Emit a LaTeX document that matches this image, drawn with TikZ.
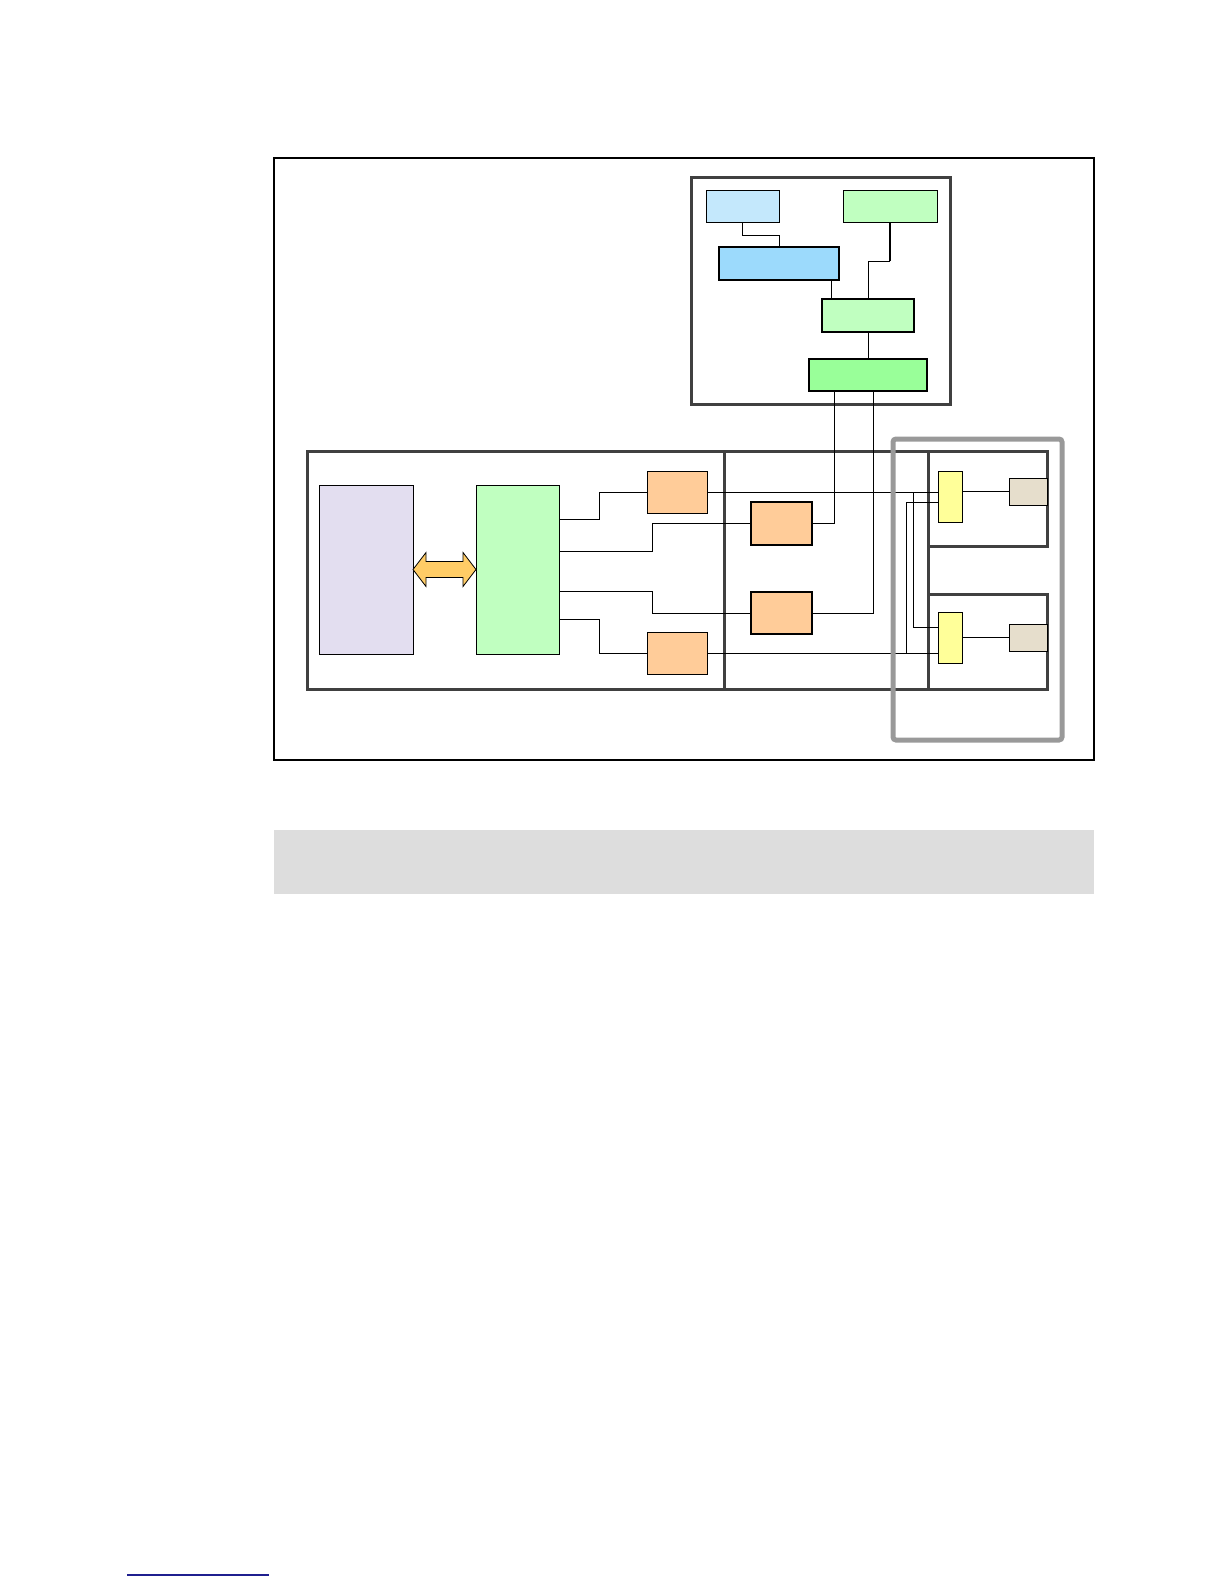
\documentclass[tikz,border=0pt]{standalone}
\usepackage{tikz}
\usetikzlibrary{calc, positioning}
\definecolor{cfgblue}{HTML}{C4E8FC}
\definecolor{mgrblue}{HTML}{9CDAFC}
\definecolor{palegrn}{HTML}{C0FFC0}
\definecolor{brightgrn}{HTML}{99FF99}
\definecolor{portpeach}{HTML}{FFCC99}
\definecolor{hostlav}{HTML}{E3DEF0}
\definecolor{hubyel}{HTML}{FFFF99}
\definecolor{devbeige}{HTML}{E6DECC}
\definecolor{linkgold}{HTML}{FFCC66}
\definecolor{panelgray}{HTML}{404040}
\definecolor{zonegray}{HTML}{999999}
\definecolor{bargray}{HTML}{DDDDDD}
\definecolor{rulenavy}{HTML}{1F1F8F}

\begin{document}
\begin{tikzpicture}[x=1pt, y=-1pt,
    unit/.style={draw, line width=0.8pt, inner sep=0pt, outer sep=0pt},
    panel/.style={draw=panelgray, line width=3pt},
    wire/.style={line width=0.8pt},
    heavywire/.style={line width=1.8pt}]
                \useasboundingbox (0,0) rectangle (1224,1584);
                \draw[line width=1.2pt] (274,158) rectangle (1094,760);
                \fill[bargray] (274,830) rectangle (1094,894);
                \draw[rulenavy, line width=1.5pt] (127,1575) -- (269,1575);
                \draw[panel] (691,177) rectangle (950,404);
                \draw[panel] (307,451) rectangle (724,689);
                \draw[panel] (724,451) rectangle (928,689);
                \draw[panel] (928,451) rectangle (1047,546);
                \draw[panel] (928,594) rectangle (1047,689);
                \node[unit, fill=cfgblue, minimum width=73pt, minimum height=32pt] (cfg) at (742.5,206) {};
                \node[unit, fill=palegrn, minimum width=94pt, minimum height=32pt] (svc) at (890,206) {};
                \node[unit, fill=mgrblue, line width=1.4pt, minimum width=120pt, minimum height=33pt] (mgr) at (779,263.5) {};
                \node[unit, fill=palegrn, line width=1.4pt, minimum width=92pt, minimum height=33pt] (agent) at (868,315.5) {};
                \node[unit, fill=brightgrn, line width=1.2pt, minimum width=118pt, minimum height=32pt] (drv) at (868,375) {};
                \node[unit, fill=hostlav, minimum width=94pt, minimum height=169pt] (host) at (366,569.5) {};
                \node[unit, fill=palegrn, minimum width=83pt, minimum height=169pt] (ctrl) at (517.5,569.5) {};
                \node[unit, fill=portpeach, minimum width=60pt, minimum height=42pt] (portA) at (677,492) {};
                \node[unit, fill=portpeach, minimum width=60pt, minimum height=42pt] (portD) at (677,653) {};
                \node[unit, fill=portpeach, line width=1.2pt, minimum width=61pt, minimum height=43pt] (portB) at (781.5,523.5) {};
                \node[unit, fill=portpeach, line width=1.2pt, minimum width=61pt, minimum height=42pt] (portC) at (781.5,613) {};
                \node[unit, fill=hubyel, minimum width=24pt, minimum height=51pt] (hubA) at (950,496.5) {};
                \node[unit, fill=hubyel, minimum width=24pt, minimum height=51pt] (hubB) at (950,637.5) {};
                \node[unit, fill=devbeige, minimum width=38pt, minimum height=27pt] (devA) at (1028,491.5) {};
                \node[unit, fill=devbeige, minimum width=38pt, minimum height=27pt] (devB) at (1028,637.5) {};
                \coordinate (svcbend) at ($(svc.south)+(0,39)$);
                \coordinate (mgrtap) at ($(mgr.south)+(52,0)$);
                \coordinate (drvtapL) at ($(drv.south)+(-34,0)$);
                \coordinate (drvtapR) at ($(drv.south)+(5,0)$);
                \coordinate (ctrlbend) at ($(ctrl.east)+(93,-18.5)$);
                \draw[wire] (cfg.south) -- ++(0,13) -| (mgr.north);
                \draw[heavywire] (svc.south) -- (svcbend);
                \draw[wire] (svcbend) -| (agent.north);
                \draw[wire] (mgrtap) -- (mgrtap |- agent.north);
                \draw[wire] (agent.south) -- (drv.north);
                \draw[wire] (drvtapL) -- (drvtapL |- portB.east);
                \draw[heavywire] (drvtapL |- portB.east) -- (portB.east);
                \draw[wire] (drvtapR) |- (portC.east);
                \fill[linkgold, draw=black, line width=0.8pt] (host.east) -- ++(13,-17) -- ++(0,9)
                    -- ($(ctrl.west)+(-13,-8)$) -- ++(0,-9) -- (ctrl.west) -- ++(-13,17) -- ++(0,-9)
                    -- ($(host.east)+(13,8)$) -- ++(0,9) -- cycle;
                \draw[wire] ($(ctrl.east)+(0,-50.5)$) -- ++(40,0) |- (portA.west);
                \draw[wire] ($(ctrl.east)+(0,-18.5)$) -- (ctrlbend) -- (ctrlbend |- portB.west);
                \draw[heavywire] (ctrlbend |- portB.west) -- (portB.west);
                \draw[wire] ($(ctrl.east)+(0,21.5)$) -- ++(93,0) |- (portC.west);
                \draw[wire] ($(ctrl.east)+(0,49.5)$) -- ++(40,0) |- (portD.west);
                \draw[wire] (portA.east) -- (portA.east -| hubA.west);
                \draw[wire] (portD.east) -- (portD.east -| hubB.west);
                \draw[wire] ($(portD.east -| hubB.west)+(-32,0)$) |- ($(hubA.west)+(0,5.5)$);
                \draw[wire] ($(portA.east -| hubA.west)+(-25,0)$) |- ($(hubB.west)+(0,-10.5)$);
                \draw[wire] (hubA.east |- devA.west) -- (devA.west);
                \draw[heavywire] (hubB.east) -- (devB.west);
                \draw[zonegray, line width=5pt, rounded corners=3pt] (893,439) rectangle (1062,740);
            \end{tikzpicture}
\end{document}
